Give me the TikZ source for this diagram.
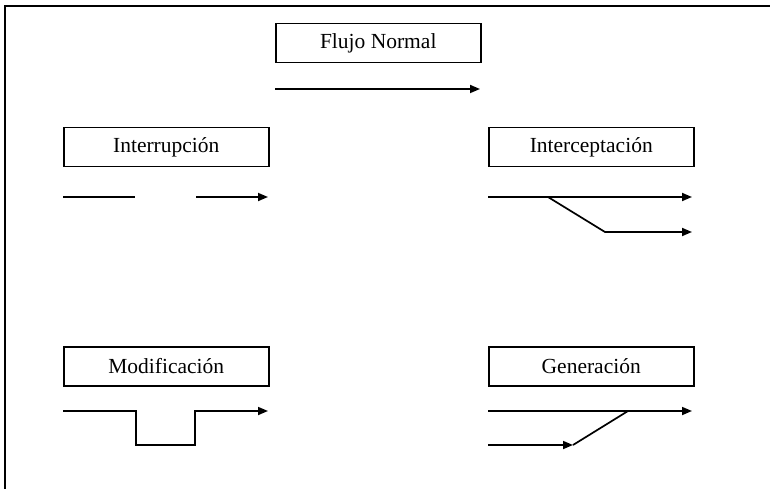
\documentclass[tikz,border=0pt]{standalone}
\usepackage{fontspec}
\setmainfont{Liberation Serif}
\usetikzlibrary{arrows.meta}
\begin{document}
\begin{tikzpicture}[x=1pt,y=-1pt,
  line width=1.7pt,
  label box/.style={draw, line width=1.5pt, minimum width=205pt, minimum height=39pt,
    inner sep=0pt, font=\fontsize{21.5}{25}\selectfont, anchor=north west},
  flow/.style={-{Triangle[length=10pt,width=8pt]}},
  plain/.style={line cap=butt}]
\useasboundingbox (0,0) rectangle (770,489);
% outer frame: top and left edges only
\draw[line width=1.8pt] (5,489) -- (5,6) -- (771,6);

% Flujo normal
\node[label box] (bn) at (275,23) {Flujo Normal};
\coordinate (n1) at (275,89);
\coordinate (n2) at (480,89);
\draw[flow] (n1) -- (n2);

% Interrupcion
\node[label box] (bi) at (63,127) {Interrupción};
\coordinate (i1) at (63,197);
\coordinate (i2) at (135,197);
\coordinate (i3) at (196,197);
\coordinate (i4) at (268,197);
\draw[plain] (i1) -- (i2);
\draw[flow] (i3) -- (i4);

% Interceptacion
\node[label box] (bc) at (488,127) {Interceptación};
\coordinate (c1) at (488,197);
\coordinate (c2) at (692,197);
\coordinate (c3) at (548,197);
\coordinate (c4) at (605,232);
\coordinate (c5) at (692,232);
\draw[flow] (c1) -- (c2);
\draw[flow] (c3) -- (c4) -- (c5);

% Modificacion
\node[label box] (bm) at (63,346) {Modificación};
\coordinate (m1) at (63,411);
\coordinate (m2) at (136,411);
\coordinate (m3) at (136,445);
\coordinate (m4) at (195,445);
\coordinate (m5) at (195,411);
\coordinate (m6) at (268,411);
\draw[flow] (m1) -- (m2) -- (m3) -- (m4) -- (m5) -- (m6);

% Generacion
\node[label box] (bg) at (488,346) {Generación};
\coordinate (g1) at (488,411);
\coordinate (g2) at (692,411);
\coordinate (g3) at (488,445);
\coordinate (g4) at (573,445);
\coordinate (g5) at (628,411);
\draw[flow] (g1) -- (g2);
\draw[flow] (g3) -- (g4);
\draw (g4) -- (g5);
\end{tikzpicture}
\end{document}
